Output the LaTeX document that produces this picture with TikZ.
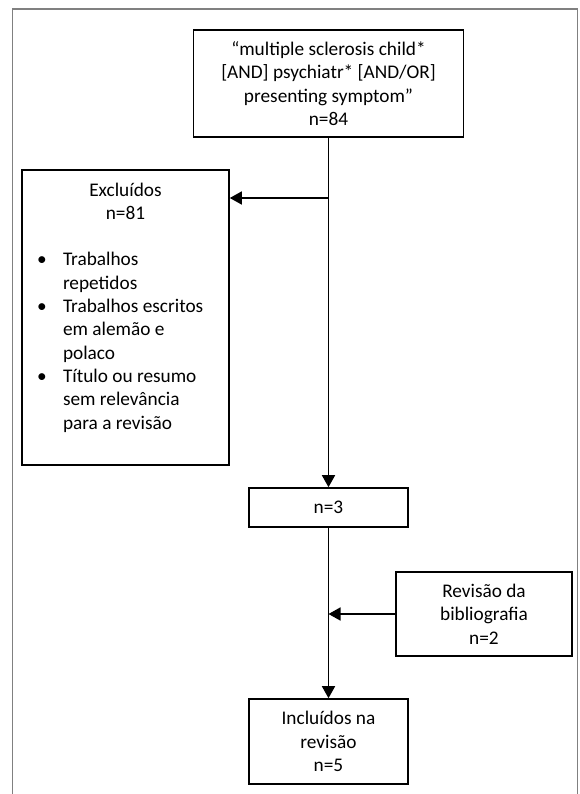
\documentclass[tikz,border=0pt]{standalone}
\usepackage{fontspec}
\setmainfont{Carlito}
\usetikzlibrary{arrows.meta}
\newenvironment{bullets}{\begin{list}{•}{\setlength\leftmargin{27pt}%
  \setlength\labelwidth{24pt}\setlength\labelsep{3pt}%
  \setlength\itemsep{0pt}\setlength\parsep{0pt}%
  \setlength\topsep{0pt}\setlength\partopsep{0pt}%
  \renewcommand\makelabel[1]{\hspace{1pt}##1\hfil}}}{\end{list}}

\begin{document}
\begin{tikzpicture}[x=1pt,y=-1pt,
  box/.style={draw,line width=1.6pt,inner sep=0pt,align=center,
    font=\fontsize{19.3}{23.3}\selectfont},
  listbox/.style={draw,line width=1.6pt,inner xsep=14pt,inner ysep=0pt,
    font=\fontsize{19.3}{23.3}\selectfont},
  arr/.style={line width=1.6pt,-{Triangle[length=12pt,width=13pt]}}]
  \useasboundingbox (0,0) rectangle (579,794);
  \draw[gray,line width=1.5pt] (12.7,794) -- (12.7,9) -- (577.5,9) -- (577.5,794);
  \node[box,minimum width=270pt,minimum height=107pt] (search) at (328.5,83.5)
    {“multiple sclerosis child*\\{[AND]} psychiatr* [AND/OR]\\presenting symptom”\\n=84};
  \node[listbox] (excl) at (125.5,317.5)
    {\parbox[c][295pt][t]{179pt}{\centering\rule{0pt}{26pt}Excluídos\\n=81\par
     \raggedright\vspace{23.3pt}
     \begin{bullets}
       \item Trabalhos\\repetidos
       \item Trabalhos escritos\\em alemão e\\polaco
       \item Título ou resumo\\sem relevância\\para a revisão
     \end{bullets}}};
  \node[box,minimum width=159pt,minimum height=39pt] (n3) at (328.5,507.5) {n=3};
  \node[box,minimum width=176pt,minimum height=84pt] (biblio) at (484,614)
    {Revisão da\\bibliografia\\n=2};
  \node[box,minimum width=159pt,minimum height=85pt] (incl) at (328.5,741.5)
    {Incluídos na\\revisão\\n=5};
  \coordinate (split) at (328.5,198);
  \draw[arr] (search) -- (n3);
  \draw[arr] (split) -- (split -| excl.east);
  \draw[arr] (n3) -- (incl);
  \draw[arr] (biblio.west) -- (biblio.west -| n3.south);
\end{tikzpicture}
\end{document}
